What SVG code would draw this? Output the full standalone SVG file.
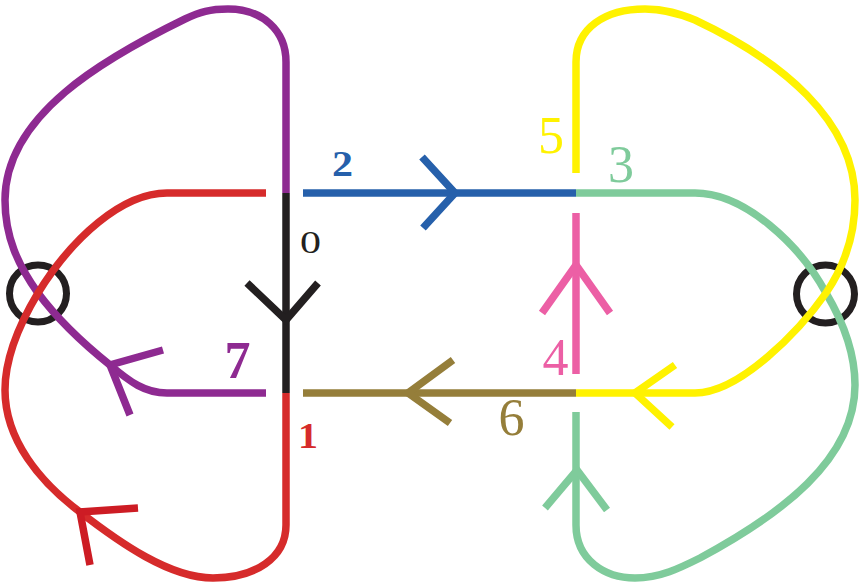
<svg xmlns="http://www.w3.org/2000/svg" width="864" height="585" viewBox="0 0 864 585">
  <style>
    .arc { fill: none; stroke-width: 7.5; stroke-linecap: butt; stroke-linejoin: miter; }
    .lbl { font-family: "Liberation Serif", "DejaVu Serif", serif; text-anchor: middle; }
    .sm { font-size: 35px; }
    .lg { font-size: 52px; }
    .b { font-weight: bold; }
    .ring { fill: none; stroke: #231f20; stroke-width: 7; }
  </style>
  <rect width="864" height="585" fill="#ffffff"/>

  <!-- virtual crossings -->
  <g id="vcross-left"><circle class="ring" cx="38" cy="293.5" r="28.5"/></g>
  <g id="vcross-right"><circle class="ring" cx="825.5" cy="294" r="29"/></g>

  <!-- arc 7 (purple) -->
  <g id="arc7">
    <path class="arc" stroke="#8e2a91" d="M286,193 L286,62 C286,30 262,9 228,9 C210,9 200,12 185,19 C105,58 5,115 5,200 C5,237 18,265 38,293 C58,320 85,345 110,365 C130,382 145,393 167,393 L266,393"/>
    <path class="arc" stroke="#8e2a91" d="M163,350 L110,365 L130,415"/>
    <text class="lbl lg b" x="237.5" y="378" fill="#8e2a91">7</text>
  </g>

  <!-- arc 1 (red) -->
  <g id="arc1">
    <path class="arc" stroke="#d62b2b" d="M266,193 L167,193 C122,193 72,238 38,293 C17,328 5,360 5,390 C5,440 40,482 80,512 C120,543 170,578 213,578 C255,578 286,558 286,525 L286,393"/>
    <path class="arc" stroke="#cd1c24" d="M138,508 L80,512 L90,565"/>
    <text class="lbl sm b" x="308" y="448" fill="#d62b2b" textLength="20" lengthAdjust="spacingAndGlyphs">1</text>
  </g>

  <!-- arc 0 (black) -->
  <g id="arc0">
    <path class="arc" stroke="#231f20" d="M286,193 L286,393"/>
    <path class="arc" stroke="#231f20" d="M247,283 L286,320 L318,283"/>
    <text class="lbl" style="font-size:32px" x="310.5" y="253" fill="#231f20" textLength="21" lengthAdjust="spacingAndGlyphs">0</text>
  </g>

  <!-- arc 2 (blue) -->
  <g id="arc2">
    <path class="arc" stroke="#2660ab" d="M303,193 L576,193"/>
    <path class="arc" stroke="#2660ab" d="M422,157 L455,193 L423,228"/>
    <text class="lbl sm b" x="342.5" y="176" fill="#2660ab" textLength="21" lengthAdjust="spacingAndGlyphs">2</text>
  </g>

  <!-- arc 6 (olive) -->
  <g id="arc6">
    <path class="arc" stroke="#957e3a" d="M303,393 L576,393"/>
    <path class="arc" stroke="#957e3a" d="M453,360 L408,393 L450,423"/>
    <text class="lbl lg" x="511.5" y="435" fill="#957e3a">6</text>
  </g>

  <!-- arc 4 (pink) -->
  <g id="arc4">
    <path class="arc" stroke="#ec5fa5" d="M576,213 L576,374"/>
    <path class="arc" stroke="#ec5fa5" d="M542,313 L576,265 L610,313"/>
    <text class="lbl lg" x="555.5" y="375" fill="#ec5fa5">4</text>
  </g>

  <!-- arc 3 (green) -->
  <g id="arc3">
    <path class="arc" stroke="#7fcb9b" d="M576,193 L695,193 C745,193 800,245 826,293 C845,325 855,355 855,385 C855,460 780,515 700,558 C680,568 660,578 635,578 C605,578 576,560 576,525 L576,412"/>
    <path class="arc" stroke="#7fcb9b" d="M545,508 L577,470 L607,510"/>
    <text class="lbl lg" x="621" y="182" fill="#7fcb9b">3</text>
  </g>

  <!-- arc 5 (yellow) -->
  <g id="arc5">
    <path class="arc" stroke="#fff200" d="M576,173 L576,62 C576,28 605,9 645,9 C665,9 680,14 695,20 C780,60 855,120 855,200 C855,235 845,265 826,293 C800,330 740,393 695,393 L576,393"/>
    <path class="arc" stroke="#fff200" d="M675,365 L635,393 L672,427"/>
    <text class="lbl lg" x="551" y="153" fill="#fff200">5</text>
  </g>
</svg>
